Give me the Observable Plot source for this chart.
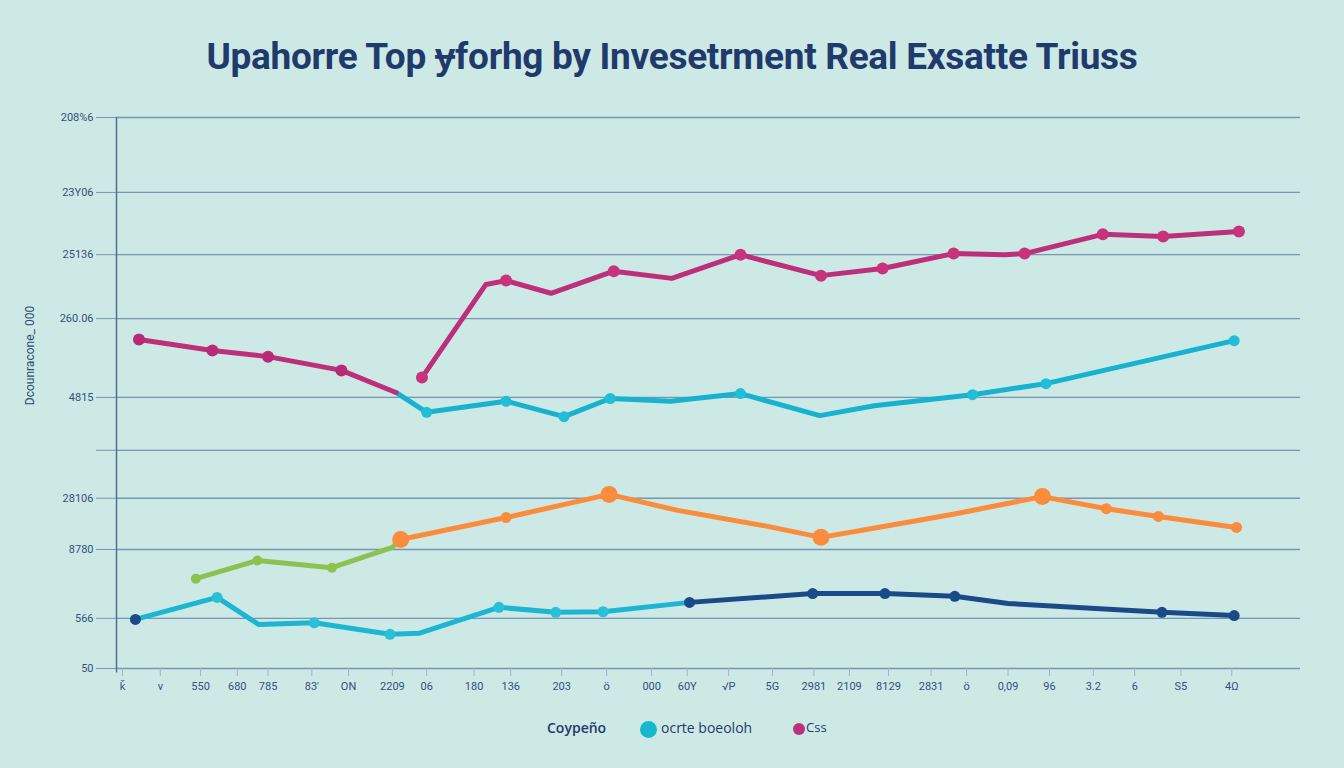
<!DOCTYPE html>
<html>
<head>
<meta charset="utf-8">
<script src="https://cdn.jsdelivr.net/npm/d3@7"></script>
<script src="https://cdn.jsdelivr.net/npm/@observablehq/plot@0.6"></script>
<style>
  html, body { margin: 0; padding: 0; background: #cde9e6; width: 1344px; height: 768px; overflow: hidden; }
  #title { height: 100px; box-sizing: border-box; padding-top: 35px; text-align: center; font-family: Roboto, sans-serif; font-weight: 700; font-size: 37px; line-height: 44px; color: #1f3a6b; letter-spacing: -0.3px; }
  #chart { height: 600px; }
  #legend { position: relative; height: 68px; font-family: "Open Sans", sans-serif; font-size: 14px; color: #1f3a6b; }
  #legend span { position: absolute; top: 18px; }
  .sw { position: absolute; border-radius: 50%; }
</style>
</head>
<body>
<div id="title">Upahorre Top ɏforhg by Invesetrment Real Exsatte Triuss</div>
<div id="chart"></div>
<div id="legend">
  <span style="left:547px;font-weight:600">Coypeño</span>
  <div class="sw" style="left:640px;top:21px;width:17px;height:17px;background:#16b8d0"></div>
  <span style="left:661px">ocrte boeoloh</span>
  <div class="sw" style="left:793px;top:23px;width:12px;height:12px;background:#b8327c"></div>
  <span style="left:806px;font-size:13px">Css</span>
</div>
<script>
// ---- axis ticks ----
const yTickVals   = [100, 86.4, 75.1, 63.5, 49.2, 39.6, 30.9, 21.6, 9.1, 0];
const yTickLabels = ["208%6", "23Y06", "25136", "260.06", "4815", "", "28106", "8780", "566", "50"];
const xTickVals   = [0.5, 3.7, 7.1, 10.2, 12.8, 16.5, 19.6, 23.3, 26.2, 30.2, 33.3, 37.6, 41.4, 45.2, 48.2, 51.7, 55.4, 58.9, 61.9, 65.2, 68.8, 71.8, 75.3, 78.8, 82.5, 86.0, 89.9, 94.2];
const xTickLabels = ["ǩ", "ν", "550", "680", "785", "83'", "ON", "2209", "06", "180", "136", "203", "ö", "000", "60Y", "√P", "5G", "2981", "2109", "8129", "2831", "ö", "0,09", "96", "3.2", "6", "S5", "4Ω"];
const yAxisTitle  = "Dcounracone_ 000";

// ---- series: [x, y, hasDot] ----
const magentaFalling = [[1.9,59.7,1],[8.1,57.7,1],[12.8,56.6,1],[19.0,54.1,1],[23.6,50.1,0]];
const magentaRising  = [[25.8,52.8,1],[31.2,69.7,0],[32.9,70.4,1],[36.7,68.1,0],[42.0,72.1,1],[46.9,70.8,0],[52.7,75.1,1],[59.5,71.3,1],[64.7,72.6,1],[70.7,75.3,1],[75.0,75.1,0],[76.7,75.3,1],[83.3,78.8,1],[88.4,78.4,1],[94.8,79.3,1]];
const cyanUpper      = [[23.6,50.1,0],[26.2,46.5,1],[32.9,48.5,1],[37.8,45.7,1],[41.7,49.0,1],[46.8,48.5,0],[52.7,49.9,1],[59.4,45.9,0],[64.0,47.7,0],[72.3,49.7,1],[78.5,51.7,1],[94.4,59.5,1]];
const greenSeries    = [[6.7,16.3,1],[11.9,19.6,1],[18.2,18.3,1],[23.3,22.0,0],[24.0,23.4,0]];
const orangeSeries   = [[24.0,23.4,2],[32.9,27.4,1],[41.6,31.6,2],[47.4,28.7,0],[55.0,25.8,0],[59.5,23.8,2],[64.3,25.6,0],[70.9,28.1,0],[78.2,31.2,2],[83.6,29.0,1],[88.0,27.6,1],[94.6,25.6,1]];
const cyanLower      = [[1.6,8.9,0],[8.5,12.9,1],[12.0,8.0,0],[16.7,8.3,1],[23.1,6.2,1],[25.6,6.4,0],[32.3,11.1,1],[37.1,10.2,1],[41.1,10.3,1],[48.4,12.0,0]];
const navySeries     = [[1.6,8.9,1],[48.4,12.0,1],[58.8,13.6,1],[64.9,13.6,1],[70.8,13.1,1],[75.3,11.8,0],[88.3,10.2,1],[94.4,9.6,1]];

const toRows = a => a.map(([x, y, d]) => ({x, y, d}));
const yLab = new Map(yTickVals.map((v, i) => [v, yTickLabels[i]]));
const xLab = new Map(xTickVals.map((v, i) => [v, xTickLabels[i]]));

function series(arr, color, dotColor, r, opts = {}) {
  const rows = toRows(arr);
  const marks = [];
  if (!opts.noLine) marks.push(Plot.line(rows, {x: "x", y: "y", stroke: color, strokeWidth: 5, strokeLinejoin: "round", strokeLinecap: "round"}));
  marks.push(Plot.dot(rows.filter(d => d.d === 1), {x: "x", y: "y", r: r, fill: dotColor, stroke: "none"}));
  marks.push(Plot.dot(rows.filter(d => d.d === 2), {x: "x", y: "y", r: r + 3, fill: dotColor, stroke: "none"}));
  return marks;
}

const chart = Plot.plot({
  width: 1344, height: 600,
  marginLeft: 116, marginRight: 44, marginTop: 17, marginBottom: 32,
  x: {domain: [0, 100]},
  y: {domain: [0, 100]},
  style: {background: "transparent", fontFamily: "Roboto, sans-serif", color: "#34507a"},
  marks: [
    Plot.gridY(yTickVals, {stroke: "#6688aa", strokeOpacity: 0.85, strokeWidth: 1.3}),
    Plot.axisY(yTickVals, {tickFormat: d => yLab.get(d), tickSize: 20, tickPadding: 3, fontSize: 11, stroke: "#6688aa", strokeOpacity: 0.85, label: null}),
    Plot.axisX(xTickVals, {tickFormat: d => xLab.get(d), tickSize: 8, tickPadding: 6, fontSize: 11, stroke: "#9fb3c4", label: null}),
    Plot.ruleX([0], {y1: -0.8, y2: 100, stroke: "#4f6f8f", strokeWidth: 1.5}),
    Plot.text([yAxisTitle], {x: [0], y: [56.8], dx: -86, rotate: -90, fontSize: 12, fill: "#2e4a6e"}),
    ...series(greenSeries, "#8cc350", "#8cc350", 5),
    ...series(orangeSeries, "#fa8c3c", "#fa8c3c", 5.5),
    ...series(cyanLower, "#1cb6d2", "#2cc0d6", 5.5),
    ...series(navySeries.slice(1), "#1b4a88", "#1b4a88", 5.5),
    ...series(navySeries.slice(0, 1), "#1b4a88", "#1b4a88", 5.5, {noLine: true}),
    ...series(cyanUpper, "#17b2cf", "#22bdd6", 5.5),
    ...series(magentaFalling, "#bd2f7a", "#b82a76", 6),
    ...series(magentaRising, "#bd2f7a", "#c8337c", 6)
  ]
});
document.getElementById("chart").appendChild(chart);
</script>
</body>
</html>
